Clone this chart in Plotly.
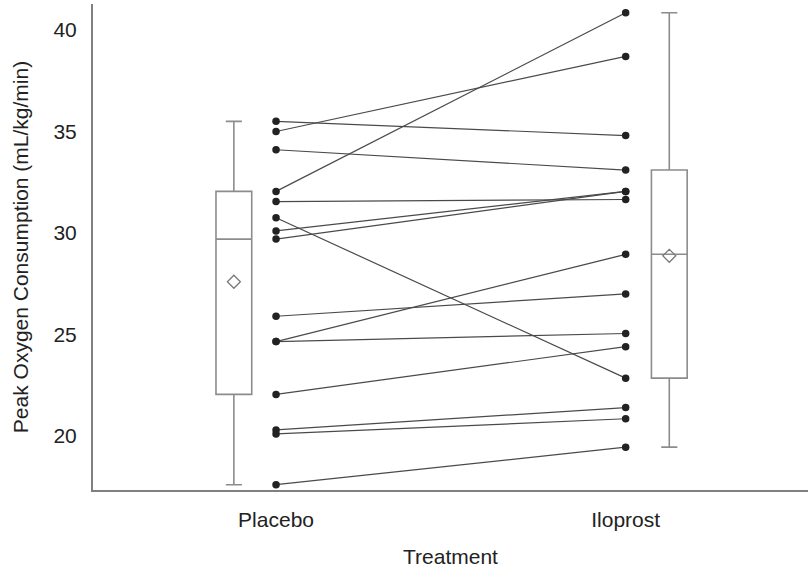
import numpy as np
import plotly.graph_objects as go

groups = ["Placebo", "Iloprost"]
placebo = [35.5, 35.0, 34.1, 32.05, 31.55, 30.75, 30.1, 29.7, 25.9, 24.65, 24.65, 22.05, 20.3, 20.1, 17.6]
iloprost = [34.8, 38.7, 33.1, 40.85, 31.65, 22.85, 32.05, 32.05, 27.0, 28.95, 25.05, 24.4, 21.4, 20.85, 19.45]
y_ticks = [20, 25, 30, 35, 40]

X_PTS = [0.256, 0.745]
X_BOX = [0.197, 0.806]
BOX_W = 0.05
FONT = "Liberation Sans, Arial, Helvetica, sans-serif"
BOX_COLOR = "#8c8c8c"

fig = go.Figure()

# paired lines
lx, ly = [], []
for a, b in zip(placebo, iloprost):
    lx += [X_PTS[0], X_PTS[1], None]
    ly += [a, b, None]
fig.add_trace(go.Scatter(x=lx, y=ly, mode="lines",
                         line=dict(color="#4a4a4a", width=1.2),
                         hoverinfo="skip", showlegend=False))

# points
for xi, vals in zip(X_PTS, [placebo, iloprost]):
    fig.add_trace(go.Scatter(x=[xi] * len(vals), y=vals, mode="markers",
                             marker=dict(color="#222222", size=7.5),
                             showlegend=False))

# boxes
for xb, vals, name in zip(X_BOX, [placebo, iloprost], groups):
    fig.add_trace(go.Box(x=[xb] * len(vals), y=vals, name=name,
                         quartilemethod="exclusive", boxpoints=False,
                         width=BOX_W, whiskerwidth=0.45,
                         fillcolor="rgba(0,0,0,0)",
                         line=dict(color=BOX_COLOR, width=1.6),
                         showlegend=False))
    fig.add_trace(go.Scatter(x=[xb], y=[float(np.mean(vals))], mode="markers",
                             marker=dict(symbol="diamond-open", size=10,
                                         color="#7a7a7a", line=dict(width=1.3)),
                             showlegend=False))

fig.update_layout(
    width=808, height=571,
    margin=dict(l=93, r=0, t=4, b=81),
    plot_bgcolor="white", paper_bgcolor="white",
    font=dict(family=FONT, size=21, color="#222222"),
    showlegend=False,
)
fig.update_xaxes(range=[0, 1], tickmode="array", tickvals=X_PTS, ticktext=groups,
                 showline=True, linecolor="#808080", linewidth=2,
                 showgrid=False, zeroline=False, ticks="",
                 ticklabelstandoff=10,
                 title=dict(text="Treatment", standoff=19, font=dict(size=21)))
fig.update_yaxes(range=[17.34, 41.28], tickmode="array", tickvals=y_ticks,
                 showline=True, linecolor="#808080", linewidth=2,
                 showgrid=False, zeroline=False, ticks="", ticklen=0,
                 ticklabelstandoff=10,
                 title=dict(text="Peak Oxygen Consumption (mL/kg/min)", standoff=19,
                            font=dict(size=21)))

fig.write_html("out.html")
